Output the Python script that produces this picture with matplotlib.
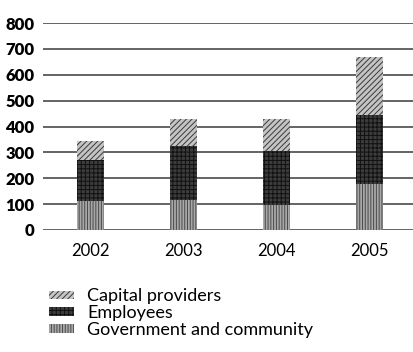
import numpy as np
import matplotlib.pyplot as plt

plt.rcParams['font.family'] = ['Lato', 'DejaVu Sans']
plt.rcParams['hatch.linewidth'] = 0.7

years = ['2002', '2003', '2004', '2005']
government = [112, 116, 98, 176]
employees = [158, 210, 207, 268]
capital = [74, 103, 124, 225]

fig = plt.figure(figsize=(4.13, 3.52), dpi=100)
ax = fig.add_axes([43 / 413, 122 / 352, 370 / 413, 207 / 352])

x = np.arange(len(years))
w = 0.29
b1 = ax.bar(x, government, w, color='#a8a8a8', edgecolor='#4a4a4a', hatch='||||||', lw=0, zorder=3)
b2 = ax.bar(x, employees, w, bottom=government, color='#3c3c3c', edgecolor='#111111',
            hatch='++++', lw=0, zorder=3)
bottom2 = [g + e for g, e in zip(government, employees)]
b3 = ax.bar(x, capital, w, bottom=bottom2, color='#c4c4c4', edgecolor='#3a3a3a',
            hatch='//////', lw=0, zorder=3)

ax.set_ylim(0, 800)
ax.set_xlim(-0.505, 3.47)
ax.set_yticks(range(0, 801, 100))
ax.yaxis.grid(True, color='#3a3a3a', lw=1.1, zorder=1)
ax.set_axisbelow(True)
for s in ax.spines.values():
    s.set_visible(False)
ax.tick_params(axis='y', length=0, pad=6, labelsize=12)
ax.tick_params(axis='x', length=0, pad=9, labelsize=12)
for t in ax.get_yticklabels():
    t.set_fontweight('heavy')
ax.set_xticks(x)
ax.set_xticklabels(years)

handles = [b3, b2, b1]
labels = ['Capital providers', 'Employees', 'Government and community']
fig.legend(handles, labels, loc='upper left', bbox_to_anchor=(33 / 413, 1 - 272 / 352),
           frameon=False, fontsize=13, handlelength=1.35, handleheight=0.35,
           labelspacing=0.05, handletextpad=0.75)

fig.savefig('out.png', dpi=100)
